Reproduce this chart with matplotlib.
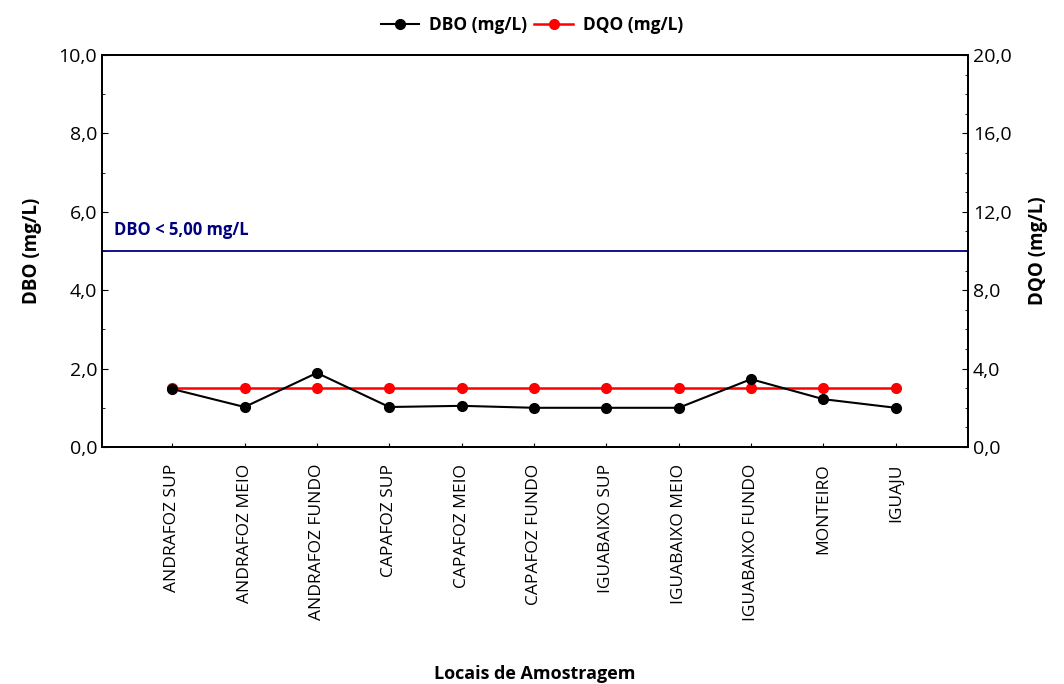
import matplotlib.pyplot as plt
from matplotlib.ticker import FuncFormatter, MultipleLocator

plt.rcParams['font.family'] = ['Open Sans', 'DejaVu Sans']

locais = ["ANDRAFOZ SUP", "ANDRAFOZ MEIO", "ANDRAFOZ FUNDO", "CAPAFOZ SUP",
          "CAPAFOZ MEIO", "CAPAFOZ FUNDO", "IGUABAIXO SUP", "IGUABAIXO MEIO",
          "IGUABAIXO FUNDO", "MONTEIRO", "IGUAJU"]
dbo = [1.48, 1.02, 1.89, 1.02, 1.05, 1.0, 1.0, 1.0, 1.73, 1.22, 1.0]
dqo = [3.0, 3.0, 3.0, 3.0, 3.0, 3.0, 3.0, 3.0, 3.0, 3.0, 3.0]
limite_dbo = 5.0

virgula = FuncFormatter(lambda v, p: f"{v:.1f}".replace(".", ","))

fig = plt.figure(figsize=(10.64, 6.84), dpi=100)
ax = fig.add_axes([0.0959, 0.3465, 0.8139, 0.5731])
ax2 = ax.twinx()

x = list(range(len(locais)))
l1, = ax.plot(x, dbo, color='black', marker='o', markersize=7, lw=1.5,
              label='DBO (mg/L)', zorder=3)
l2, = ax2.plot(x, dqo, color='red', marker='o', markersize=7, lw=1.8,
               label='DQO (mg/L)', zorder=2)
ax.set_zorder(ax2.get_zorder() + 1)
ax.patch.set_visible(False)

ax.axhline(limite_dbo, color='#00007f', lw=1.3)
ax.text(-0.8, limite_dbo + 0.3, "DBO < 5,00 mg/L", color='#00007f',
        fontsize=12, fontweight='bold', va='bottom')

ax.set_xlim(-0.97, 11.0)
ax.set_ylim(0, 10)
ax2.set_ylim(0, 20)
ax.yaxis.set_major_locator(MultipleLocator(2))
ax.yaxis.set_minor_locator(MultipleLocator(1))
ax2.yaxis.set_major_locator(MultipleLocator(4))
ax2.yaxis.set_minor_locator(MultipleLocator(1))
ax.yaxis.set_major_formatter(virgula)
ax2.yaxis.set_major_formatter(virgula)

ax.set_xticks(x)
ax.set_xticklabels(locais, rotation=90, fontsize=12.5)
ax.tick_params(axis='x', direction='in', length=3, pad=12)
ax.tick_params(axis='y', which='major', direction='in', length=4, labelsize=14)
ax.tick_params(axis='y', which='minor', direction='in', length=2.5)
ax2.tick_params(axis='y', which='major', direction='in', length=4, labelsize=14)
ax2.tick_params(axis='y', which='minor', direction='in', length=2.5)

for a in (ax, ax2):
    for s in a.spines.values():
        s.set_linewidth(1.3)

ax.set_ylabel("DBO (mg/L)", fontsize=13.5, fontweight='bold', labelpad=12)
ax2.set_ylabel("DQO (mg/L)", fontsize=13.5, fontweight='bold', labelpad=12)
ax.set_xlabel("Locais de Amostragem", fontsize=13, fontweight='bold', labelpad=32)

fig.legend(handles=[l1, l2], loc='upper center', bbox_to_anchor=(0.5, 1.0),
           ncol=2, frameon=False, prop={'weight': 'bold', 'size': 12.5},
           handlelength=2.2, columnspacing=0.4, handletextpad=0.6)

fig.savefig("out.png", dpi=100)
